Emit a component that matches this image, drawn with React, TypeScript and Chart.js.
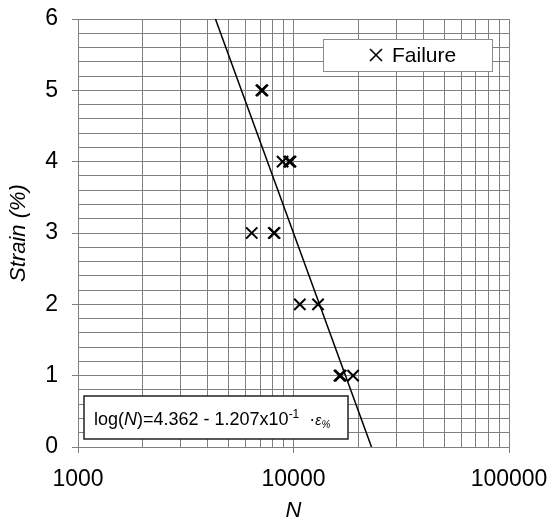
import React, { useEffect, useRef } from 'react';
import { Chart, registerables } from 'chart.js';

Chart.register(...registerables);

const FONT = '"Liberation Sans", Arial, sans-serif';

// Failure points (cycles N, strain %)
const failureStrain = [5, 5, 4, 4, 4, 3, 3, 3, 2, 2, 1, 1, 1];
const failureN = [7100, 7170, 8900, 9550, 9680, 6400, 8100, 8170, 10700, 13000, 16350, 16550, 18900];

// Fit: log(N) = a - b * strain
const fitIntercept = 4.362;
const fitSlope = 0.1207;
const fitStrain = [0, 6];

const xMajorTicks = [1000, 10000, 100000];
const yTickLabels = [0, 1, 2, 3, 4, 5, 6];

const legendLabel = 'Failure';

const isMajorX = (v: number) => xMajorTicks.some((m) => Math.abs(m - v) < 1e-6);
const isIntY = (v: number) => Math.abs(v - Math.round(v)) < 1e-6 && yTickLabels.includes(Math.round(v));

const drawCross = (ctx: CanvasRenderingContext2D, cx: number, cy: number, r: number, lw: number) => {
  ctx.save();
  ctx.strokeStyle = '#000';
  ctx.lineWidth = lw;
  ctx.beginPath();
  ctx.moveTo(cx - r, cy - r);
  ctx.lineTo(cx + r, cy + r);
  ctx.moveTo(cx + r, cy - r);
  ctx.lineTo(cx - r, cy + r);
  ctx.stroke();
  ctx.restore();
};

const boxesPlugin = {
  id: 'boxes',
  afterDraw(chart: any) {
    const ctx: CanvasRenderingContext2D = chart.ctx;
    const area = chart.chartArea;
    // Legend box
    const lx = area.right - 186;
    const ly = area.top + 20;
    ctx.save();
    ctx.fillStyle = '#fff';
    ctx.fillRect(lx, ly, 169, 32);
    ctx.strokeStyle = '#8c8c8c';
    ctx.lineWidth = 1;
    ctx.strokeRect(lx + 0.5, ly + 0.5, 169, 32);
    drawCross(ctx, lx + 53, ly + 16, 6, 1.6);
    ctx.fillStyle = '#000';
    ctx.font = `21px ${FONT}`;
    ctx.textBaseline = 'middle';
    ctx.textAlign = 'left';
    ctx.fillText(legendLabel, lx + 69, ly + 17);
    ctx.restore();

    // Equation box
    const ex = area.left + 6;
    const ey = area.bottom - 51;
    ctx.save();
    ctx.fillStyle = '#fff';
    ctx.fillRect(ex, ey, 264, 43);
    ctx.strokeStyle = '#222';
    ctx.lineWidth = 1.5;
    ctx.strokeRect(ex, ey, 264, 43);
    ctx.fillStyle = '#000';
    ctx.textBaseline = 'alphabetic';
    ctx.textAlign = 'left';
    const base = ey + 29;
    let x = ex + 10;
    const parts: [string, string, number][] = [
      ['log(', `18px ${FONT}`, 0],
      ['N', `italic 18px ${FONT}`, 0],
      [`)=${fitIntercept.toFixed(3)} - ${(fitSlope * 10).toFixed(3)}x10`, `18px ${FONT}`, 0],
      ['-1', `12px ${FONT}`, -7],
      ['  \u00b7', `18px ${FONT}`, 0],
      ['\u03b5', `italic 14px ${FONT}`, 0],
      ['%', `italic 10px ${FONT}`, 3],
    ];
    for (const [t, f, dy] of parts) {
      ctx.font = f;
      ctx.fillText(t, x, base + dy);
      x += ctx.measureText(t).width;
    }
    ctx.restore();
  },
};

export default function App() {
  const ref = useRef<HTMLCanvasElement>(null);

  useEffect(() => {
    if (!ref.current) return;
    const scatterData = failureN.map((n, i) => ({ x: n, y: failureStrain[i] }));
    const fitData = fitStrain.map((s) => ({ x: Math.pow(10, fitIntercept - fitSlope * s), y: s }));

    const chart = new Chart(ref.current, {
      type: 'scatter',
      data: {
        datasets: [
          {
            label: legendLabel,
            data: scatterData,
            pointStyle: 'crossRot',
            pointRadius: 8,
            pointBorderWidth: 2,
            borderColor: '#000',
            backgroundColor: '#000',
            showLine: false,
          },
          {
            label: 'fit',
            data: fitData,
            showLine: true,
            borderColor: '#000',
            borderWidth: 1.5,
            pointRadius: 0,
          },
        ],
      },
      options: {
        responsive: false,
        animation: false,
        events: [],
        layout: { padding: { left: 0, right: 40, top: 19, bottom: 0 } },
        plugins: { legend: { display: false }, tooltip: { enabled: false } },
        scales: {
          x: {
            type: 'logarithmic',
            min: 1000,
            max: 100000,
            afterBuildTicks: (s: any) => {
              const t: { value: number }[] = [];
              for (let d = 1000; d < 100000; d *= 10) {
                for (let k = 1; k <= 9; k++) t.push({ value: d * k });
              }
              t.push({ value: 100000 });
              s.ticks = t;
            },
            afterFit: (s: any) => {
              s.height = 73;
              s.paddingLeft = 0;
              s.paddingRight = 0;
              s.paddingTop = 0;
              s.paddingBottom = 0;
            },
            ticks: {
              autoSkip: false,
              maxRotation: 0,
              minRotation: 0,
              padding: 13,
              color: '#000',
              font: { family: FONT, size: 23 },
              callback: (v: any) => (isMajorX(Number(v)) ? String(Math.round(Number(v))) : ''),
            },
            grid: {
              color: '#808080',
              lineWidth: 1,
              tickLength: 6,
              tickColor: (c: any) => (c.tick && isMajorX(c.tick.value) ? '#808080' : 'rgba(0,0,0,0)'),
            },
            border: { color: '#808080', width: 1 },
            title: {
              display: true,
              text: 'N',
              color: '#000',
              font: { family: FONT, size: 22, style: 'italic', lineHeight: 0.8 },
              padding: 0,
            },
          },
          y: {
            type: 'linear',
            min: 0,
            max: 6,
            afterFit: (s: any) => {
              s.width = 78;
              s.paddingLeft = 0;
              s.paddingRight = 0;
              s.paddingTop = 0;
              s.paddingBottom = 0;
            },
            ticks: {
              stepSize: 0.2,
              autoSkip: false,
              padding: 14,
              color: '#000',
              font: { family: FONT, size: 23 },
              callback: (v: any) => (isIntY(Number(v)) ? String(Math.round(Number(v))) : ''),
            },
            grid: {
              color: '#808080',
              lineWidth: 1,
              tickLength: 6,
              tickColor: (c: any) => (c.tick && isIntY(c.tick.value) ? '#808080' : 'rgba(0,0,0,0)'),
            },
            border: { color: '#808080', width: 1 },
            title: {
              display: true,
              text: 'Strain (%)',
              color: '#000',
              font: { family: FONT, size: 22, style: 'italic', lineHeight: 1.2 },
              padding: { top: 6, bottom: 0 },
            },
          },
        },
      },
      plugins: [boxesPlugin],
    } as any);

    return () => chart.destroy();
  }, []);

  return (
    <div style={{ position: 'absolute', left: 0, top: 0, width: 549, height: 520, background: '#fff' }}>
      <canvas ref={ref} width={549} height={520} style={{ display: 'block' }} />
    </div>
  );
}
